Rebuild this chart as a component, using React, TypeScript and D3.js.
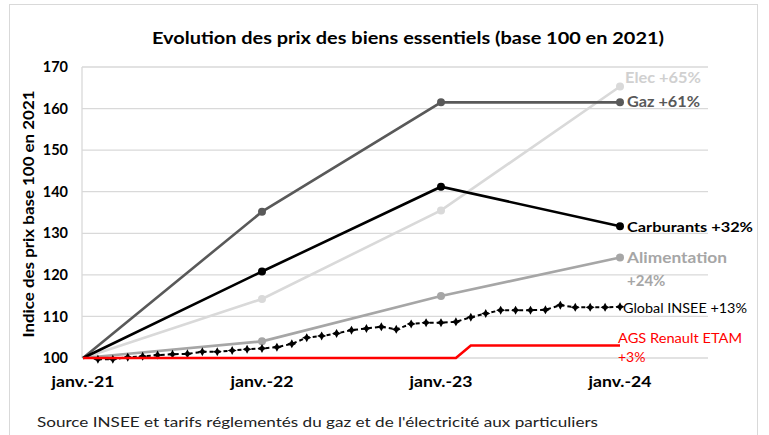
import React from "react";
import * as d3 from "d3";

const yearTicks = ["janv.-21", "janv.-22", "janv.-23", "janv.-24"];
const yTicks = [100, 110, 120, 130, 140, 150, 160, 170];

const annualMonths = [0, 12, 24, 36];
const gaz = [100, 135.2, 161.5, 161.5];
const elec = [100, 114.2, 135.5, 165.3];
const carburants = [100, 120.8, 141.2, 131.7];
const alimentation = [100, 104.0, 114.9, 124.2];

const agsMonths = [0, 25, 26, 36];
const ags = [100, 100, 103, 103];

const globalInsee = [
  99.7, 99.7, 100.2, 100.4, 100.7, 100.9, 101.0, 101.5, 101.5, 101.8, 102.1, 102.3,
  102.6, 103.4, 104.9, 105.3, 105.9, 106.7, 107.1, 107.5, 106.9, 108.2, 108.5, 108.5,
  108.7, 109.8, 110.7, 111.5, 111.5, 111.5, 111.6, 112.7, 112.2, 112.2, 112.2, 112.3,
];

const FONT = "Lato, 'Open Sans', sans-serif";

export default function App() {
  const x = d3.scaleLinear().domain([0, 36]).range([83, 620]);
  const y = d3.scaleLinear().domain([100, 170]).range([358, 67]);
  const line = d3
    .line<[number, number]>()
    .x((d) => x(d[0]))
    .y((d) => y(d[1]));

  const annual = [
    { vals: elec, color: "#d9d9d9" },
    { vals: alimentation, color: "#a6a6a6" },
    { vals: gaz, color: "#595959" },
    { vals: carburants, color: "#000000" },
  ];

  const insee: [number, number][] = globalInsee.map((v, i) => [i + 1, v]);
  const star = "M0,-4.5L1.6,-1.6L4.5,0L1.6,1.6L0,4.5L-1.6,1.6L-4.5,0L-1.6,-1.6Z";

  return (
    <svg
      width={769}
      height={435}
      style={{ position: "absolute", left: 0, top: 0, background: "#fff" }}
      fontFamily={FONT}
    >
      <rect x={9.5} y={4.5} width={748} height={440} fill="#fff" stroke="#d9d9d9" />
      <text x={408} y={44} textAnchor="middle" fontSize={17} fontWeight={700} fill="#000" textLength={512} lengthAdjust="spacingAndGlyphs">
        Evolution des prix des biens essentiels (base 100 en 2021)
      </text>

      {yTicks.map((t) => (
        <g key={t}>
          <line x1={82} x2={708} y1={y(t)} y2={y(t)} stroke="#d9d9d9" strokeWidth={1.3} />
          <text x={68} y={y(t)} dy="0.35em" textAnchor="end" fontSize={14.5} fontWeight={700}>
            {t}
          </text>
        </g>
      ))}
      <line x1={82} x2={82} y1={67} y2={358} stroke="#d9d9d9" strokeWidth={1.3} />

      <text
        transform={`translate(34,214) rotate(-90)`}
        textAnchor="middle"
        fontSize={15}
        fontWeight={700}
        textLength={247}
        lengthAdjust="spacingAndGlyphs"
      >
        Indice des prix base 100 en 2021
      </text>

      {yearTicks.map((t, i) => (
        <text key={t} x={x(annualMonths[i])} y={387} textAnchor="middle" fontSize={14.5} fontWeight={700} textLength={63} lengthAdjust="spacingAndGlyphs">
          {t}
        </text>
      ))}

      {annual.map((s, k) => (
        <g key={k}>
          <path
            d={line(annualMonths.map((m, i) => [m, s.vals[i]]))!}
            fill="none"
            stroke={s.color}
            strokeWidth={2.6}
          />
          {annualMonths.map((m, i) =>
            i === 0 ? null : <circle key={i} cx={x(m)} cy={y(s.vals[i])} r={4} fill={s.color} />
          )}
        </g>
      ))}

      <path d={line(insee)!} fill="none" stroke="#000" strokeWidth={2} strokeDasharray="4,3" />
      {insee.map((d, i) => (
        <path key={i} d={star} transform={`translate(${x(d[0])},${y(d[1])})`} fill="#000" />
      ))}

      <path
        d={line(agsMonths.map((m, i) => [m, ags[i]]))!}
        fill="none"
        stroke="#ff0000"
        strokeWidth={2.6}
      />

      <text x={625} y={78} dy="0.35em" fontSize={15} fontWeight={700} fill="#d0d0d0" textLength={76} lengthAdjust="spacingAndGlyphs">Elec +65%</text>
      <text x={627} y={102} dy="0.35em" fontSize={15} fontWeight={700} fill="#595959" textLength={73} lengthAdjust="spacingAndGlyphs">Gaz +61%</text>
      <text x={627} y={227} dy="0.35em" fontSize={14} fontWeight={700} fill="#000" textLength={126} lengthAdjust="spacingAndGlyphs">Carburants +32%</text>
      <text x={627} y={258} dy="0.35em" fontSize={15} fontWeight={700} fill="#a6a6a6" textLength={100} lengthAdjust="spacingAndGlyphs">Alimentation</text>
      <text x={627} y={281} dy="0.35em" fontSize={15} fontWeight={700} fill="#a6a6a6">+24%</text>
      <text x={623} y={309} dy="0.35em" fontSize={12.5} fill="#000" textLength={124} lengthAdjust="spacingAndGlyphs">Global INSEE +13%</text>
      <text x={618} y={338} dy="0.35em" fontSize={14} fill="#ff0000" textLength={124} lengthAdjust="spacingAndGlyphs">AGS Renault ETAM</text>
      <text x={618} y={357} dy="0.35em" fontSize={14} fill="#ff0000">+3%</text>

      <text x={37} y={427} fontSize={14} fill="#222" textLength={561} lengthAdjust="spacingAndGlyphs">
        Source INSEE et tarifs réglementés du gaz et de l'électricité aux particuliers
      </text>
    </svg>
  );
}
